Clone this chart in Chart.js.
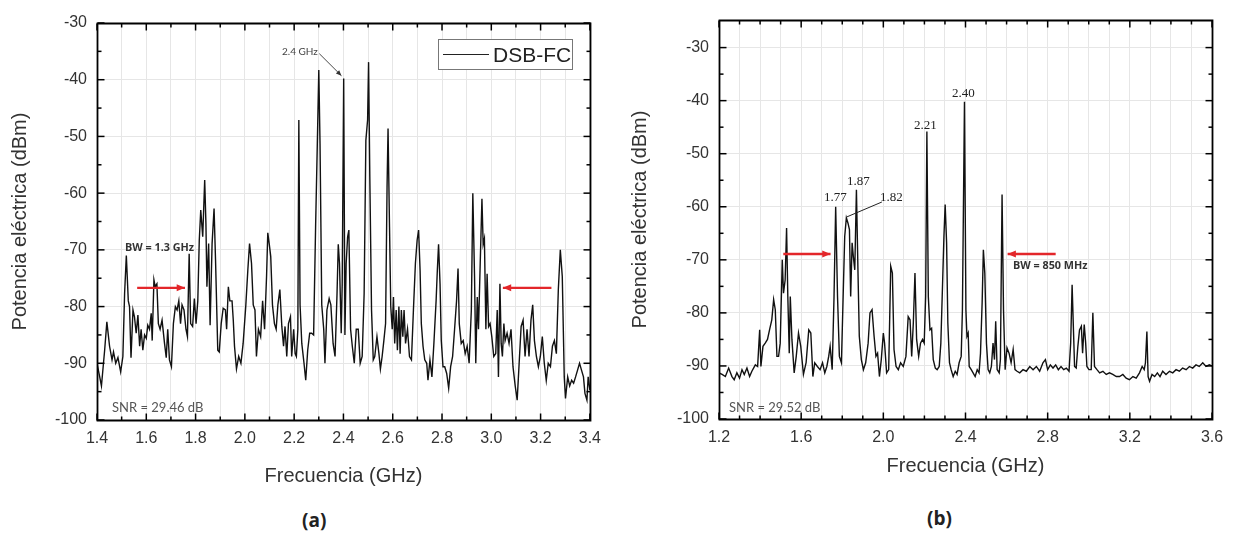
<!DOCTYPE html>
<html>
<head>
<meta charset="utf-8">
<script src="https://cdn.jsdelivr.net/npm/chart.js@4.4.1/dist/chart.umd.min.js"></script>
<style>
  body { margin: 0; background: #fff; }
  #page { position: relative; width: 1235px; height: 536px; overflow: hidden; background: #fff; }
  .wrap { position: absolute; top: 0; }
  .note { position: absolute; white-space: nowrap; }
  .snr { font-family: Lato, "Open Sans", sans-serif; font-size: 13px; line-height: 13px; color: #555; }
  .bw { font-family: "Open Sans", Lato, sans-serif; font-weight: bold; font-size: 10.8px; line-height: 11px; color: #333; }
  .num { font-family: "Liberation Serif", serif; font-size: 13px; line-height: 13px; color: #222; }
  .tag { font-family: "Open Sans", sans-serif; font-weight: bold; font-size: 19px; line-height: 19px; color: #222; }
  #legendA { position: absolute; left: 438px; top: 39px; width: 133px; height: 29px; border: 1px solid #777; background: #fff; }
  #legendA .ln { position: absolute; left: 4px; top: 14px; width: 46px; height: 0; border-top: 1.5px solid #222; }
  #legendA .tx { position: absolute; left: 54px; top: 3px; font-family: "Liberation Sans", Arial, sans-serif; font-size: 21px; line-height: 23px; color: #222; }
</style>
</head>
<body>
<div id="page">
  <div class="wrap" style="left:0px"><canvas id="chartA" width="610" height="500"></canvas></div>
  <div class="wrap" style="left:620px"><canvas id="chartB" width="615" height="500"></canvas></div>

  <div id="legendA"><div class="ln"></div><div class="tx">DSB-FC</div></div>
  <div class="note snr" style="left:282px;top:46px;font-size:10px;line-height:10px;color:#444">2.4 GHz</div>
  <div class="note bw" style="left:125px;top:241px">BW = 1.3 GHz</div>
  <div class="note snr" style="left:112px;top:401px">SNR = 29.46 dB</div>

  <div class="note num" style="left:952px;top:86px">2.40</div>
  <div class="note num" style="left:914px;top:118px">2.21</div>
  <div class="note num" style="left:847px;top:174px">1.87</div>
  <div class="note num" style="left:824px;top:190px">1.77</div>
  <div class="note num" style="left:880px;top:190px">1.82</div>
  <div class="note bw" style="left:1013px;top:259px">BW = 850 MHz</div>
  <div class="note snr" style="left:729px;top:401px">SNR = 29.52 dB</div>

  <div class="note tag" style="left:302px;top:511px">(a)</div>
  <div class="note tag" style="left:927px;top:509px">(b)</div>
</div>

<script>
// (a) DSB-FC spectrum
const freqA = [
  1.400,1.411,1.418,1.431,1.440,1.451,1.461,1.467,1.476,1.485,
  1.496,1.505,1.512,1.519,1.527,1.532,1.538,1.546,1.552,1.559,
  1.566,1.573,1.579,1.586,1.593,1.600,1.606,1.613,1.620,1.624,
  1.631,1.636,1.643,1.649,1.656,1.664,1.674,1.681,1.687,1.694,
  1.702,1.710,1.718,1.725,1.732,1.739,1.745,1.753,1.761,1.767,
  1.774,1.780,1.788,1.795,1.802,1.809,1.815,1.821,1.829,1.837,
  1.842,1.846,1.853,1.859,1.867,1.875,1.881,1.890,1.896,1.904,
  1.912,1.921,1.926,1.933,1.939,1.948,1.953,1.958,1.966,1.975,
  1.984,1.993,2.004,2.012,2.019,2.027,2.034,2.041,2.047,2.055,
  2.064,2.072,2.080,2.088,2.093,2.099,2.105,2.112,2.120,2.127,
  2.134,2.142,2.150,2.157,2.163,2.170,2.177,2.185,2.190,2.198,
  2.204,2.209,2.215,2.219,2.224,2.231,2.240,2.247,2.255,2.263,
  2.271,2.279,2.287,2.294,2.300,2.305,2.312,2.320,2.325,2.333,
  2.342,2.349,2.358,2.366,2.374,2.379,2.384,2.391,2.395,2.401,
  2.406,2.411,2.417,2.422,2.429,2.436,2.444,2.452,2.460,2.468,
  2.476,2.484,2.491,2.498,2.502,2.507,2.514,2.521,2.527,2.536,
  2.544,2.550,2.557,2.564,2.571,2.577,2.581,2.587,2.592,2.598,
  2.603,2.608,2.614,2.619,2.625,2.630,2.635,2.641,2.646,2.652,
  2.660,2.668,2.676,2.684,2.692,2.699,2.705,2.711,2.716,2.723,
  2.730,2.738,2.743,2.751,2.759,2.767,2.776,2.781,2.786,2.792,
  2.797,2.804,2.811,2.819,2.827,2.835,2.843,2.851,2.859,2.865,
  2.870,2.878,2.886,2.894,2.902,2.910,2.919,2.925,2.932,2.937,
  2.943,2.948,2.955,2.962,2.967,2.972,2.978,2.983,2.989,2.995,
  3.002,3.010,3.018,3.024,3.029,3.035,3.040,3.045,3.051,3.056,
  3.064,3.072,3.080,3.088,3.097,3.105,3.113,3.121,3.129,3.137,
  3.145,3.153,3.161,3.168,3.175,3.183,3.191,3.199,3.207,3.215,
  3.223,3.231,3.240,3.248,3.256,3.264,3.272,3.280,3.288,3.296,
  3.301,3.310,3.318,3.326,3.334,3.342,3.350,3.358,3.366,3.374,
  3.380,3.388,3.393,3.400
];
const powerA = [
  -90,-92.4,-94,-87.7,-82.7,-87,-89.4,-88,-90,-89,
  -91.5,-88.8,-77.7,-71,-79,-80,-89,-80.6,-81.8,-84.7,
  -81.5,-87,-84,-87.7,-85,-85.6,-83.3,-84,-81.2,-86,
  -75.3,-76.5,-76,-83,-84,-82.4,-86.5,-89,-84,-89.4,
  -90.6,-83,-80,-80.6,-79,-83,-79.7,-80.6,-84,-85.3,
  -70.7,-83,-83.5,-78.6,-83,-79,-68.3,-63,-67.7,-57.7,
  -65.4,-76.5,-68.9,-83.3,-68.9,-62.7,-71.8,-87.7,-88,-83,
  -80.3,-80.6,-84,-76.5,-79,-79,-82.4,-87,-91,-88.8,
  -90,-86.5,-79.7,-73.6,-68.9,-72.4,-79.7,-80.6,-88.8,-84,
  -85.3,-79,-84,-74.7,-67,-69,-71.2,-79.7,-83,-84,
  -79.7,-77,-83.5,-87,-83.5,-88.8,-83,-81.8,-88.8,-84,
  -88.3,-88.8,-84,-47.1,-79.7,-86.5,-90,-93,-87.7,-84.7,
  -84.7,-85,-66,-51.3,-38.3,-51.3,-79.7,-84,-90,-80.6,
  -78.6,-79.7,-86.5,-88.8,-77.7,-69,-72.4,-84.7,-76,-39.8,
  -85,-72.4,-67.7,-66.5,-84,-87,-90,-84,-84,-90,
  -88.8,-77.7,-50.7,-47.1,-36.9,-57.1,-80.6,-89.4,-88.8,-85.3,
  -88.3,-91,-88.8,-86,-83,-58.9,-48.6,-66,-80,-84,
  -78.3,-86.5,-80.6,-87.7,-80,-88.3,-80.6,-85.3,-80.6,-86.5,
  -84,-88.8,-89.4,-80.6,-72.4,-68.3,-66.5,-73.6,-83,-87,
  -89.4,-90,-93,-89.4,-92.4,-86.5,-79,-73.6,-69,-76,
  -86,-90.6,-90.6,-91.8,-94.4,-90.6,-88.8,-84,-79,-73.3,
  -83,-86.5,-86,-88.3,-87,-90,-80.6,-60,-74.7,-90,
  -78.3,-84,-72.4,-61,-69,-68,-84,-74.2,-83.5,-83,
  -85.3,-88.8,-88.3,-80.6,-92.4,-76,-86.5,-88.8,-83,-86,
  -84.7,-86.5,-84,-90.6,-94,-96.5,-90,-83.5,-82.4,-88.8,
  -84,-88.8,-82.4,-79.7,-86,-88.8,-90.6,-88.8,-85.3,-90,
  -93,-90,-90.6,-87,-86,-88.3,-77,-70,-74.7,-92.4,
  -96.2,-92.4,-94,-93,-93.5,-92.4,-91.2,-90,-91.2,-92.4,
  -95.3,-96.5,-92.4,-94.7
];

// (b) spectrum
const freqB = [
  1.200,1.215,1.231,1.247,1.263,1.274,1.287,1.300,1.312,1.323,
  1.336,1.349,1.360,1.377,1.388,1.398,1.404,1.414,1.425,1.436,
  1.446,1.457,1.466,1.474,1.482,1.490,1.498,1.508,1.514,1.522,
  1.529,1.535,1.542,1.547,1.555,1.566,1.576,1.587,1.598,1.611,
  1.624,1.637,1.647,1.657,1.666,1.679,1.692,1.704,1.715,1.725,
  1.734,1.741,1.751,1.760,1.768,1.777,1.786,1.796,1.806,1.812,
  1.820,1.828,1.835,1.841,1.848,1.854,1.861,1.869,1.877,1.883,
  1.893,1.903,1.914,1.926,1.935,1.945,1.955,1.964,1.972,1.981,
  1.990,2.000,2.006,2.016,2.026,2.036,2.044,2.052,2.062,2.073,
  2.084,2.097,2.110,2.121,2.130,2.138,2.146,2.154,2.162,2.172,
  2.181,2.191,2.199,2.206,2.212,2.219,2.227,2.235,2.243,2.253,
  2.262,2.272,2.280,2.288,2.295,2.301,2.308,2.314,2.322,2.330,
  2.340,2.350,2.359,2.369,2.379,2.385,2.395,2.402,2.407,2.413,
  2.418,2.428,2.437,2.447,2.457,2.466,2.473,2.481,2.487,2.494,
  2.502,2.510,2.518,2.526,2.534,2.541,2.547,2.554,2.564,2.570,
  2.578,2.585,2.593,2.602,2.612,2.622,2.632,2.641,2.651,2.664,
  2.680,2.696,2.713,2.729,2.745,2.761,2.777,2.789,2.800,2.813,
  2.826,2.839,2.852,2.865,2.878,2.891,2.904,2.912,2.919,2.925,
  2.931,2.939,2.947,2.955,2.964,2.970,2.978,2.985,2.991,3.001,
  3.012,3.020,3.028,3.040,3.053,3.069,3.085,3.101,3.117,3.134,
  3.150,3.166,3.182,3.198,3.215,3.231,3.247,3.260,3.270,3.276,
  3.283,3.289,3.296,3.308,3.321,3.334,3.347,3.360,3.376,3.393,
  3.409,3.425,3.441,3.457,3.474,3.490,3.506,3.522,3.538,3.555,
  3.571,3.587,3.600
];
const powerB = [
  -91.3,-91.6,-92,-90.4,-92,-92.6,-91.3,-92.3,-90.7,-91.6,
  -90.4,-92,-91,-89.8,-90.1,-83.2,-90.1,-86.3,-85.7,-85,
  -83.2,-81.3,-77.5,-79.4,-88.2,-88.2,-85.7,-70,-76.3,-73.8,
  -64,-76.9,-87.6,-76.9,-85,-91.3,-88.2,-83.8,-86.3,-91.6,
  -89.4,-83.2,-83.8,-92,-89.4,-90.1,-90.7,-89.4,-91.3,-90.1,
  -88.2,-86.3,-90.7,-76.9,-60,-76.9,-88.2,-89.4,-74.4,-65.6,
  -62.1,-63.1,-64.3,-76.9,-66.8,-69.4,-71.9,-56.8,-73.1,-84.4,
  -88.8,-90.7,-89.4,-85.7,-80,-79.4,-84.4,-88.2,-87.6,-92,
  -88.8,-83.8,-85.7,-91.3,-90.7,-71.2,-72.5,-86.9,-90.1,-90.7,
  -89.4,-90.1,-88.2,-80.7,-81.3,-88.2,-81.9,-72.5,-85,-88.2,
  -85.7,-85,-85.7,-76.9,-45.8,-76.9,-83.2,-82.9,-88.8,-90.4,
  -90.7,-90.1,-85.7,-75,-65.6,-59.6,-66.8,-81.9,-89.4,-90.7,
  -92,-91,-91.6,-89.4,-88.2,-79.4,-40.2,-79.4,-84.4,-83.8,
  -90.1,-90.7,-91.3,-92,-90.7,-91.3,-87.6,-78.1,-68.1,-72.5,
  -85.7,-90.7,-91.3,-90.1,-85.7,-88.8,-81.6,-90.7,-91.3,-88.8,
  -57.7,-79.4,-90.7,-86.6,-87.6,-89.4,-86.9,-90.7,-91,-91.3,
  -90.7,-91,-90.1,-90.7,-90.1,-91,-89.4,-88.8,-90.7,-89.8,
  -90.4,-89.8,-90.7,-90.1,-90.7,-90.4,-91,-85.7,-74.7,-82.5,
  -90.1,-90.4,-86.3,-83.2,-82.5,-87.6,-82.2,-85.7,-90.1,-90.7,
  -90.7,-80,-90.1,-90.7,-91.3,-91,-91.6,-91.3,-91.6,-92,
  -92,-91.6,-92.3,-92.6,-92,-92.3,-91.3,-90.1,-90.7,-89.4,
  -83.5,-92,-92.9,-91.6,-92,-91.3,-92,-91,-91.6,-91,
  -91.3,-90.7,-91,-90.4,-90.7,-90.1,-90.4,-89.8,-90.1,-89.4,
  -90.1,-89.8,-90
];

// tick labels
const xLabelsA = [1.4, 1.6, 1.8, 2.0, 2.2, 2.4, 2.6, 2.8, 3.0, 3.2, 3.4];
const yLabelsA = [-100, -90, -80, -70, -60, -50, -40, -30];
const xLabelsB = [1.2, 1.6, 2.0, 2.4, 2.8, 3.2, 3.6];
const yLabelsB = [-100, -90, -80, -70, -60, -50, -40, -30];

// split each label interval into n parts, for minor ticks / grid
function subdivide(labels, n) {
  const out = [];
  for (let i = 0; i < labels.length - 1; i++) {
    for (let k = 0; k < n; k++) out.push(labels[i] + (labels[i + 1] - labels[i]) * k / n);
  }
  out.push(labels[labels.length - 1]);
  return out;
}

const isLabel = (v, labels) => labels.some(l => Math.abs(l - v) < 1e-6);

const framePlugin = {
  id: 'frame',
  afterDraw(chart, args, opts) {
    const ctx = chart.ctx;
    const a = chart.chartArea;
    const x = chart.scales.x, y = chart.scales.y;
    const L = Math.round(a.left) + 0.5, R = Math.round(a.right) + 0.5;
    const T = Math.round(a.top) + 0.5, B = Math.round(a.bottom) + 0.5;
    ctx.save();
    ctx.strokeStyle = '#000';
    ctx.lineWidth = 1.5;
    const seg = (x0, y0, x1, y1) => { ctx.beginPath(); ctx.moveTo(x0, y0); ctx.lineTo(x1, y1); ctx.stroke(); };
    x.ticks.forEach(t => {
      const px = x.getPixelForValue(t.value);
      const len = isLabel(t.value, opts.xLabels) ? 7 : 4;
      seg(px, B, px, B - len);
      seg(px, T, px, T + len);
    });
    y.ticks.forEach(t => {
      const py = y.getPixelForValue(t.value);
      const len = isLabel(t.value, opts.yLabels) ? 7 : 4;
      seg(L, py, L + len, py);
      seg(R, py, R - len, py);
    });
    ctx.lineWidth = 1.8;
    ctx.beginPath();
    ctx.rect(L, T, R - L, B - T);
    ctx.stroke();

    (opts.arrows || []).forEach(ar => {
      const x0 = x.getPixelForValue(ar.x0), x1 = x.getPixelForValue(ar.x1);
      const y0 = y.getPixelForValue(ar.y0), y1 = y.getPixelForValue(ar.y1);
      ctx.strokeStyle = ar.color;
      ctx.fillStyle = ar.color;
      ctx.lineWidth = ar.width;
      seg(x0, y0, x1, y1);
      if (ar.head) {
        const ang = Math.atan2(y1 - y0, x1 - x0);
        const h = ar.head;
        ctx.beginPath();
        ctx.moveTo(x1, y1);
        ctx.lineTo(x1 - h * Math.cos(ang - 0.4), y1 - h * Math.sin(ang - 0.4));
        ctx.lineTo(x1 - h * Math.cos(ang + 0.4), y1 - h * Math.sin(ang + 0.4));
        ctx.closePath();
        ctx.fill();
      }
    });
    ctx.restore();
  }
};

function makeChart(id, freq, power, cfg) {
  const xTicks = subdivide(cfg.xLabels, cfg.xSub);
  const yTicks = subdivide(cfg.yLabels, 2);
  const tickFont = { family: '"Liberation Sans", Arial, sans-serif', size: 16 };
  const titleFont = { family: '"Liberation Sans", Arial, sans-serif', size: 20 };
  return new Chart(document.getElementById(id), {
    type: 'line',
    data: {
      datasets: [{
        data: freq.map((f, i) => ({ x: f, y: power[i] })),
        borderColor: '#111',
        borderWidth: 1.4,
        pointRadius: 0,
        tension: 0
      }]
    },
    options: {
      responsive: false,
      animation: false,
      layout: { padding: cfg.padding },
      plugins: {
        legend: { display: false },
        tooltip: { enabled: false },
        frame: { arrows: cfg.arrows, xLabels: cfg.xLabels, yLabels: cfg.yLabels }
      },
      scales: {
        x: {
          type: 'linear',
          min: cfg.xMin,
          max: cfg.xMax,
          afterBuildTicks: s => { s.ticks = xTicks.map(v => ({ value: v })); },
          afterFit: s => { s.height = cfg.xHeight; },
          border: { display: false },
          grid: { color: '#e6e6e6', drawTicks: false, lineWidth: 1 },
          ticks: {
            autoSkip: false, maxRotation: 0, padding: 9, color: '#333', font: tickFont,
            callback: v => isLabel(v, cfg.xLabels) ? v.toFixed(1) : ''
          },
          title: { display: true, text: 'Frecuencia (GHz)', color: '#333', font: titleFont, padding: cfg.xTitlePad }
        },
        y: {
          min: -100,
          max: cfg.yMax,
          afterBuildTicks: s => { s.ticks = yTicks.map(v => ({ value: v })); },
          afterFit: s => { s.width = cfg.yWidth; },
          border: { display: false },
          grid: {
            drawTicks: false, lineWidth: 1,
            color: c => (c.tick && isLabel(c.tick.value, cfg.yLabels)) ? '#e6e6e6' : 'rgba(0,0,0,0)'
          },
          ticks: {
            autoSkip: false, padding: 10, color: '#333', font: tickFont,
            callback: v => isLabel(v, cfg.yLabels) ? String(Math.round(v)) : ''
          },
          title: { display: true, text: 'Potencia eléctrica (dBm)', color: '#333', font: titleFont, padding: cfg.yTitlePad }
        }
      }
    },
    plugins: [framePlugin]
  });
}

const red = '#e3262a';

makeChart('chartA', freqA, powerA, {
  xLabels: xLabelsA, xSub: 2, yLabels: yLabelsA,
  xMin: 1.4, xMax: 3.4, yMax: -30,
  padding: { left: 0, top: 23, right: 18, bottom: 0 },
  xHeight: 80, yWidth: 97,
  xTitlePad: { top: 4, bottom: 12 }, yTitlePad: { top: 8, bottom: 4 },
  arrows: [
    { x0: 1.563, y0: -76.7, x1: 1.757, y1: -76.7, color: red, width: 2.4, head: 9 },
    { x0: 3.244, y0: -76.7, x1: 3.047, y1: -76.7, color: red, width: 2.4, head: 9 },
    { x0: 2.302, y0: -35.4, x1: 2.392, y1: -39.3, color: '#333', width: 0.9, head: 6 }
  ]
});

makeChart('chartB', freqB, powerB, {
  xLabels: xLabelsB, xSub: 4, yLabels: yLabelsB,
  xMin: 1.2, xMax: 3.6, yMax: -24.8,
  padding: { left: 0, top: 20, right: 23, bottom: 0 },
  xHeight: 81, yWidth: 99,
  xTitlePad: { top: 4, bottom: 22 }, yTitlePad: { top: 8, bottom: 4 },
  arrows: [
    { x0: 1.513, y0: -68.9, x1: 1.743, y1: -68.9, color: red, width: 2.4, head: 9 },
    { x0: 2.839, y0: -68.9, x1: 2.605, y1: -68.9, color: red, width: 2.4, head: 9 },
    { x0: 1.823, y0: -61.9, x1: 1.993, y1: -59.1, color: '#222', width: 1, head: 0 }
  ]
});
</script>
</body>
</html>
